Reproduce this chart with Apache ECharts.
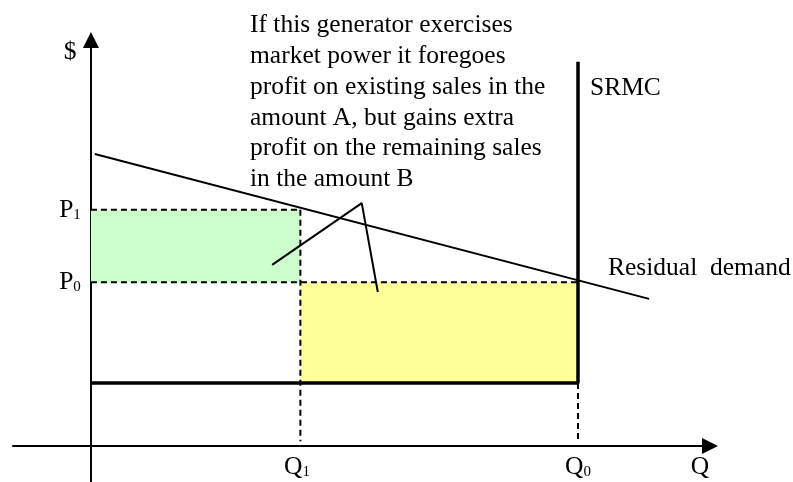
<!DOCTYPE html>
<html>
<head>
<meta charset="utf-8">
<script src="https://cdn.jsdelivr.net/npm/echarts@6/dist/echarts.min.js"></script>
<style>html,body{margin:0;padding:0;background:#fff;}#c{width:793px;height:482px;}</style>
</head>
<body>
<div id="c"></div>
<script>
// ---- data (economic units: Q on x, $ on y) ----
const Q1 = 43, Q0 = 100;
const SRMC_LEVEL = 20, P0 = 52, P1 = 75, SRMC_TOP = 122;
const demandQ = [0.8, 114.6];
const demandP = [92.7, 46.7];
const pointerQ = [37.2, 55.6, 58.9];
const pointerP = [57.5, 77.1, 48.9];
const noteLines = [
  'If this generator exercises',
  'market power it foregoes',
  'profit on existing sales in the',
  'amount A, but gains extra',
  'profit on the remaining sales',
  'in the amount B'
];
const axisRange = { xMin: -16, xMax: 127.1, yMin: -11.43, yMax: 128.9 };

const FONT = '"Liberation Serif", "Times New Roman", serif';
const FS = 25.5;
const pair = (xs, ys) => xs.map((x, i) => [x, ys[i]]);

const chart = echarts.init(document.getElementById('c'), null, { renderer: 'canvas' });
const axisCommon = {
  type: 'value',
  axisTick: { show: false }, axisLabel: { show: false }, splitLine: { show: false }
};
const lineSeries = (data, width, type, extra) => Object.assign({
  type: 'line', data, symbol: 'none', silent: true, animation: false,
  lineStyle: { color: '#000', width, type }
}, extra || {});

const rich = {
  m: { fontFamily: FONT, fontSize: FS, color: '#000' },
  s: { fontFamily: FONT, fontSize: 15, color: '#000', verticalAlign: 'bottom' }
};
const txt = (x, y, text, align, valign, r) => ({
  type: 'text', x, y, silent: true,
  style: { text, fontFamily: FONT, fontSize: FS, fill: '#000', align: align || 'center', verticalAlign: valign || 'middle', rich: r }
});

chart.setOption({
  animation: false,
  grid: { left: 13, right: 793 - 710, top: 40, bottom: 0 },
  xAxis: Object.assign({}, axisCommon, {
    min: axisRange.xMin, max: axisRange.xMax,
    axisLine: { onZero: true, lineStyle: { color: '#000', width: 2 }, symbol: ['none', 'triangle'], symbolSize: [16, 16] }
  }),
  yAxis: Object.assign({}, axisCommon, {
    min: axisRange.yMin, max: axisRange.yMax,
    axisLine: { onZero: true, lineStyle: { color: '#000', width: 2 }, symbol: ['none', 'triangle'], symbolSize: [16, 16] }
  }),
  series: [
    lineSeries([], 1, 'solid', {
      markArea: {
        silent: true,
        data: [
          [{ xAxis: 0, yAxis: P0, itemStyle: { color: '#ccffcc' } }, { xAxis: Q1, yAxis: P1 }],
          [{ xAxis: Q1, yAxis: SRMC_LEVEL, itemStyle: { color: '#ffff99' } }, { xAxis: Q0, yAxis: P0 }]
        ]
      }
    }),
    lineSeries([[0, P1], [Q1, P1]], 2, [6, 4]),
    lineSeries([[0, P0], [Q0, P0]], 2, [6, 4]),
    lineSeries([[Q1, P1], [Q1, 1.5]], 2, [6, 4]),
    lineSeries([[Q0, SRMC_LEVEL], [Q0, 1]], 2, [6, 4]),
    lineSeries([[0, SRMC_LEVEL], [Q0, SRMC_LEVEL], [Q0, SRMC_TOP]], 3.5, 'solid'),
    lineSeries(pair(demandQ, demandP), 2, 'solid'),
    lineSeries(pair(pointerQ, pointerP), 2, 'solid')
  ],
  graphic: [
    txt(70, 52, '$'),
    txt(70, 210, '{m|P}{s|1}', 'center', 'middle', rich),
    txt(70, 282, '{m|P}{s|0}', 'center', 'middle', rich),
    txt(297, 467, '{m|Q}{s|1}', 'center', 'middle', rich),
    txt(578, 467, '{m|Q}{s|0}', 'center', 'middle', rich),
    txt(700, 467, 'Q'),
    txt(196, 246, 'B'),
    txt(430, 335, 'A'),
    txt(590, 88, 'SRMC', 'left'),
    txt(608, 268, 'Residual  demand', 'left'),
    {
      type: 'text', x: 250, y: 10, silent: true,
      style: { text: noteLines.join('\n'), fontFamily: FONT, fontSize: FS, lineHeight: 30.8, fill: '#000', align: 'left', verticalAlign: 'top' }
    }
  ]
});
</script>
</body>
</html>
